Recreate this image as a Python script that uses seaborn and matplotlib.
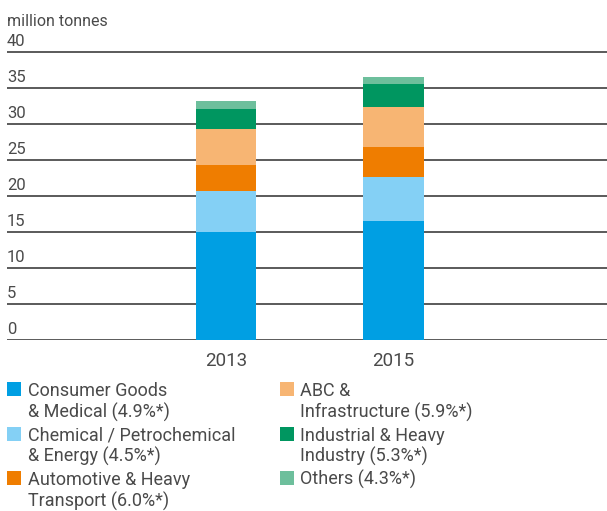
import matplotlib
matplotlib.use("Agg")
import matplotlib.pyplot as plt
import matplotlib.transforms as mtransforms
from matplotlib.patches import Rectangle
import seaborn as sns
import pandas as pd
import numpy as np

years = ["2013", "2015"]
segments = [
    "Consumer Goods\n& Medical (4.9%*)",
    "Chemical / Petrochemical\n& Energy (4.5%*)",
    "Automotive & Heavy\nTransport (6.0%*)",
    "ABC &\nInfrastructure (5.9%*)",
    "Industrial & Heavy\nIndustry (5.3%*)",
    "Others (4.3%*)",
]
consumer = [15.0, 16.5]
chemical = [5.7, 6.2]
automotive = [3.6, 4.1]
abc = [5.0, 5.6]
industrial = [2.8, 3.2]
others = [1.1, 1.0]
colors = ["#009FE3", "#84D0F5", "#EF7D00", "#F7B573", "#009660", "#6DBF9C"]
yticks = [0, 5, 10, 15, 20, 25, 30, 35, 40]
ylabel = "million tonnes"

sns.set_theme(style="white")
plt.rcParams["font.family"] = ["Roboto", "DejaVu Sans"]
txt = "#4a4a4a"

W, H = 607, 511
fig = plt.figure(figsize=(W / 100, H / 100), dpi=100)
ax = fig.add_axes([7 / W, (H - 339.7) / H, 600 / W, (339.7 - 37.9) / H])

series = [consumer, chemical, automotive, abc, industrial, others]
cum = np.cumsum(np.array(series), axis=0)
for v in yticks:
    ax.axhline(v, color="#5a5a5a", lw=1.4, zorder=0)
for i in range(len(series) - 1, -1, -1):
    df = pd.DataFrame({"year": years, "value": cum[i]})
    sns.barplot(data=df, x="year", y="value", color=colors[i], width=0.365,
                saturation=1, linewidth=0, ax=ax, zorder=2)

ax.set_xlim(-1.311, 2.281)
ax.set_ylim(0, 42)
ax.set_yticks([])
ax.set_xlabel("")
ax.set_ylabel("")
for s in ax.spines.values():
    s.set_visible(False)
ax.tick_params(axis="x", length=0, pad=9, labelsize=13.5, labelcolor=txt)

trans = mtransforms.blended_transform_factory(ax.transAxes, ax.transData)
for v in yticks:
    ax.text(0, v + 0.42, str(v), transform=trans, ha="left", va="bottom",
            fontsize=12, color=txt)
fig.text(7 / W, 1 - 21 / H, ylabel, ha="left", va="center", fontsize=11.5, color=txt)

# legend
col_sq = [7, 280]
col_tx = [28, 300]
row_base = [396.2, 440.7, 485.2]
lsp = 21.5
for i, lab in enumerate(segments):
    c, r = divmod(i, 3)
    yb = row_base[r]
    fig.add_artist(Rectangle((col_sq[c] / W, 1 - yb / H), 14 / W, 14 / H,
                             transform=fig.transFigure, color=colors[i], lw=0))
    for k, line in enumerate(lab.split("\n")):
        fig.text(col_tx[c] / W, 1 - (yb + k * lsp) / H, line, ha="left",
                 va="baseline", fontsize=13, color=txt)

fig.savefig("out.png", dpi=100)
